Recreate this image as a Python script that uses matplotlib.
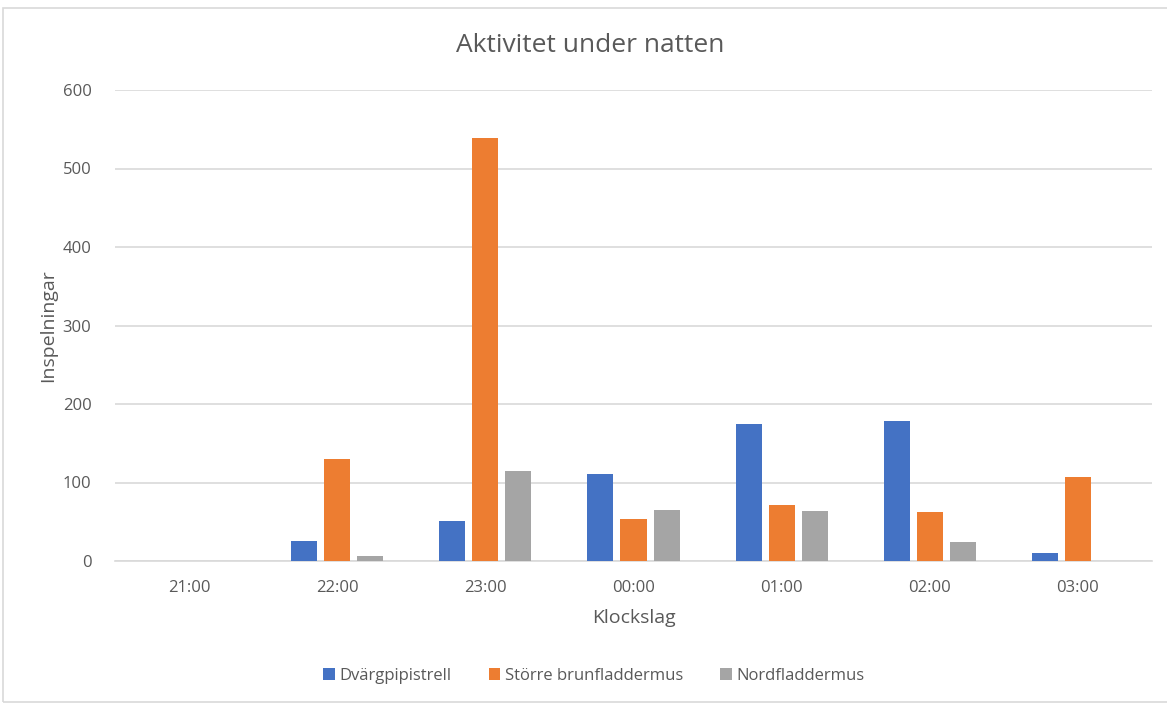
import matplotlib
matplotlib.use("Agg")
import matplotlib.pyplot as plt
import numpy as np
from matplotlib.patches import Rectangle

categories = ["21:00", "22:00", "23:00", "00:00", "01:00", "02:00", "03:00"]
dvargpipistrell = [0, 25, 51, 111, 174, 178, 10]
storre_brunfladdermus = [0, 130, 539, 54, 71, 63, 107]
nordfladdermus = [0, 6, 115, 65, 64, 24, 0]
series_names = ["Dvärgpipistrell", "Större brunfladdermus", "Nordfladdermus"]
colors = ["#4472C4", "#ED7D31", "#A5A5A5"]

plt.rcParams['font.family'] = ['Open Sans', 'DejaVu Sans']
txt = "#595959"

fig = plt.figure(figsize=(11.67, 7.04), dpi=100)
fig.patches.append(Rectangle((3/1167, 0.003), 1.0, (704-8)/704 - 0.003, transform=fig.transFigure,
                             fill=False, edgecolor="#D9D9D9", linewidth=1.2))
ax = fig.add_axes([115/1167, 1-561/704, (1152-115)/1167, (561-90)/704])

x = np.arange(len(categories))
w = 26/148
step = 33/148
for i, (vals, name, c) in enumerate(zip([dvargpipistrell, storre_brunfladdermus, nordfladdermus], series_names, colors)):
    ax.bar(x + (i-1)*step, vals, width=w, color=c, label=name, zorder=3)

ax.set_xlim(-0.5, len(categories)-0.5)
ax.set_ylim(0, 600)
ax.set_yticks(range(0, 601, 100))
ax.set_xticks(x)
ax.set_xticklabels(categories)
ax.grid(axis='y', color="#D9D9D9", linewidth=1.2, zorder=0)
for s in ['top', 'right', 'left']:
    ax.spines[s].set_visible(False)
ax.spines['bottom'].set_color("#D9D9D9")
ax.spines['bottom'].set_linewidth(1.2)
ax.tick_params(axis='both', length=0, colors=txt, labelsize=12)
ax.tick_params(axis='y', pad=17)
ax.tick_params(axis='x', pad=14)

ax.set_xlabel("Klockslag", color=txt, fontsize=14, labelpad=9)
ax.set_ylabel("Inspelningar", color=txt, fontsize=14, labelpad=4)
fig.text(590/1167, 1-46/704, "Aktivitet under natten", ha='center', va='center', color=txt, fontsize=19)

leg = fig.legend(loc='center', bbox_to_anchor=(594/1167, 1-676/704), ncol=3, frameon=False,
                 fontsize=12, handlelength=0.7, handleheight=0.7, handletextpad=0.3, columnspacing=2.2)
for t in leg.get_texts():
    t.set_color(txt)

fig.savefig("out.png", dpi=100)
